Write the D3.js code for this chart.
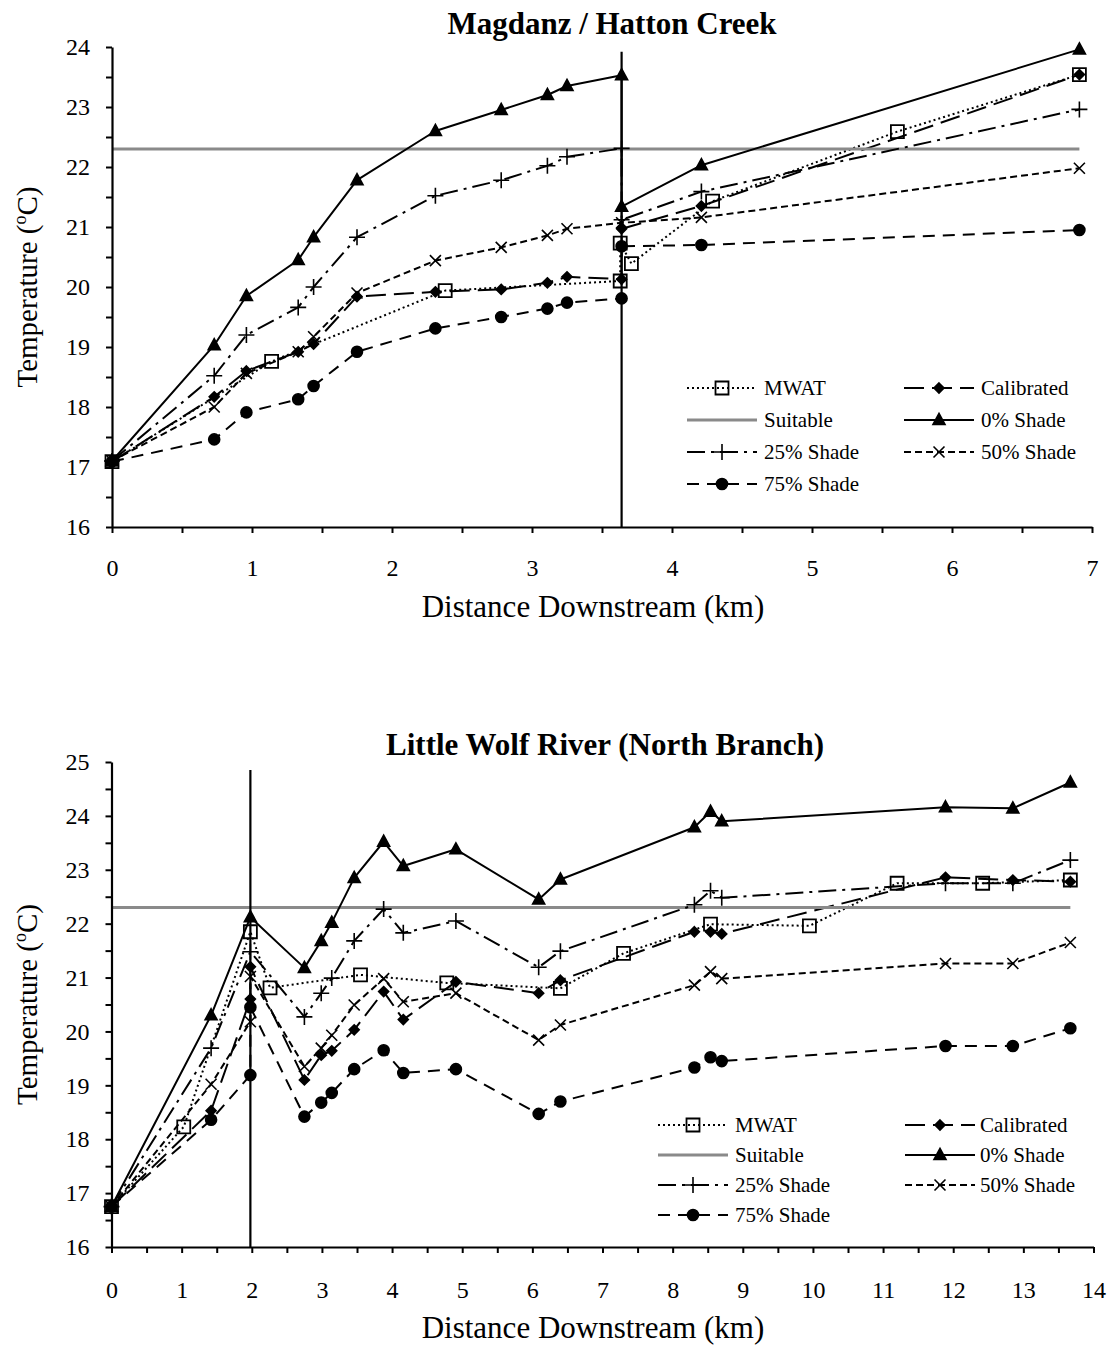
<!DOCTYPE html>
<html>
<head>
<meta charset="utf-8">
<script src="https://cdn.jsdelivr.net/npm/d3@7"></script>
<style>
  body { margin: 0; background: #fff; }
  text { font-family: "Liberation Serif", "Times New Roman", serif; fill: #000; }
</style>
</head>
<body>
<svg id="fig" width="1110" height="1345"></svg>
<script>
// ---------- Magdanz / Hatton Creek : [distance downstream (km), temperature (°C)] ----------
const magMWAT = [[0,17.09],[1.14,18.76],[2.38,19.94],[3.63,20.10],[3.63,20.73],[3.71,20.39],[4.29,21.43],[5.61,22.59],[6.91,23.54]];
const magCalibrated = [[0,17.09],[0.73,18.17],[0.96,18.60],[1.33,18.92],[1.44,19.05],[1.75,19.84],[2.31,19.92],[2.78,19.96],[3.11,20.07],[3.25,20.17],[3.64,20.13],[3.64,20.97],[4.21,21.35],[6.91,23.54]];
const magSuitable = [[0,22.3],[6.91,22.3]];
const magShade0 = [[0,17.10],[0.73,19.03],[0.96,19.85],[1.33,20.45],[1.44,20.83],[1.75,21.78],[2.31,22.60],[2.78,22.95],[3.11,23.20],[3.25,23.35],[3.64,23.53],[3.64,21.34],[4.21,22.03],[6.91,23.96]];
const magShade25 = [[0,17.10],[0.73,18.52],[0.96,19.20],[1.33,19.66],[1.44,20.00],[1.75,20.83],[2.31,21.52],[2.78,21.78],[3.11,22.02],[3.25,22.17],[3.64,22.31],[3.64,21.12],[4.21,21.59],[6.91,22.96]];
const magShade50 = [[0,17.10],[0.73,18.00],[0.96,18.56],[1.33,18.92],[1.44,19.17],[1.75,19.90],[2.31,20.44],[2.78,20.66],[3.11,20.86],[3.25,20.97],[3.64,21.07],[4.21,21.16],[6.91,21.98]];
const magShade75 = [[0,17.09],[0.73,17.46],[0.96,17.91],[1.33,18.13],[1.44,18.35],[1.75,18.92],[2.31,19.31],[2.78,19.50],[3.11,19.64],[3.25,19.74],[3.64,19.81],[3.64,20.68],[4.21,20.70],[6.91,20.95]];
const magDivide = [[3.64,16],[3.64,23.92]];

// ---------- Little Wolf River (North Branch) ----------
const lwMWAT = [[0,16.75],[1.03,18.23],[1.98,21.85],[2.26,20.81],[3.55,21.05],[4.78,20.90],[6.40,20.80],[7.30,21.45],[8.54,21.99],[9.95,21.96],[11.20,22.75],[12.42,22.75],[13.67,22.81]];
const lwCalibrated = [[0,16.75],[1.42,18.53],[1.98,20.60],[1.98,21.20],[2.75,19.10],[2.99,19.56],[3.14,19.64],[3.46,20.03],[3.88,20.74],[4.16,20.22],[4.91,20.92],[6.09,20.71],[6.40,20.95],[8.31,21.85],[8.54,21.85],[8.70,21.81],[11.89,22.86],[12.85,22.81],[13.67,22.78]];
const lwSuitable = [[0,22.3],[13.67,22.3]];
const lwShade0 = [[0,16.75],[1.42,20.30],[1.98,22.12],[2.75,21.18],[2.99,21.68],[3.14,22.02],[3.46,22.85],[3.88,23.52],[4.16,23.07],[4.91,23.38],[6.09,22.45],[6.40,22.82],[8.31,23.79],[8.54,24.08],[8.70,23.90],[11.89,24.16],[12.85,24.14],[13.67,24.62]];
const lwShade25 = [[0,16.75],[1.42,19.69],[1.98,21.48],[2.75,20.27],[2.99,20.71],[3.14,20.99],[3.46,21.68],[3.88,22.27],[4.16,21.83],[4.91,22.05],[6.09,21.19],[6.40,21.49],[8.31,22.35],[8.54,22.61],[8.70,22.48],[11.89,22.75],[12.85,22.75],[13.67,23.18]];
const lwShade50 = [[0,16.75],[1.42,19.02],[1.98,20.18],[1.98,21.02],[2.75,19.35],[2.99,19.69],[3.14,19.93],[3.46,20.49],[3.88,20.98],[4.16,20.55],[4.91,20.71],[6.09,19.84],[6.40,20.12],[8.31,20.86],[8.54,21.11],[8.70,20.98],[11.89,21.26],[12.85,21.26],[13.67,21.65]];
const lwShade75 = [[0,16.75],[1.42,18.36],[1.98,19.19],[1.98,20.45],[2.75,18.42],[2.99,18.68],[3.14,18.86],[3.46,19.30],[3.88,19.65],[4.16,19.23],[4.91,19.30],[6.09,18.47],[6.40,18.70],[8.31,19.33],[8.54,19.52],[8.70,19.45],[11.89,19.73],[12.85,19.73],[13.67,20.06]];
const lwDivide = [[1.98,16],[1.98,24.85]];

// ---------- axis ticks ----------
const magXTicks = d3.range(0, 7.001, 0.5);
const magYTicks = d3.range(16, 24.001, 0.5);
const lwXTicks = d3.range(0, 14.001, 0.5);
const lwYTicks = d3.range(16, 25.001, 0.5);

const legendNames = ["MWAT", "Calibrated", "Suitable", "0% Shade", "25% Shade", "50% Shade", "75% Shade"];

// ---------- line and marker styles per series ----------
const styles = {
  "MWAT":       { stroke: "#000", width: 2,   dash: "2,3",       marker: "square" },
  "Calibrated": { stroke: "#000", width: 2,   dash: "20,8",      marker: "diamond" },
  "Suitable":   { stroke: "#8a8a8a", width: 3, dash: null,       marker: null },
  "0% Shade":   { stroke: "#000", width: 2,   dash: null,        marker: "triangle" },
  "25% Shade":  { stroke: "#000", width: 2,   dash: "18,6,3,6",  marker: "plus" },
  "50% Shade":  { stroke: "#000", width: 2,   dash: "7,4",       marker: "cross" },
  "75% Shade":  { stroke: "#000", width: 2,   dash: "12,8",      marker: "circle" }
};

const markerPaths = {
  square:   "M-6.5,-6.5H6.5V6.5H-6.5Z",
  diamond:  "M0,-5L5,0L0,5L-5,0Z",
  triangle: "M0,-6.5L6,4.5L-6,4.5Z",
  plus:     "M-8,0H8M0,-8V8",
  cross:    "M-5.5,-5.5L5.5,5.5M-5.5,5.5L5.5,-5.5",
  circle:   "M5.5,0A5.5,5.5,0,1,1,-5.5,0A5.5,5.5,0,1,1,5.5,0Z"
};
const markerFill = { square: "none", diamond: "#000", triangle: "#000", plus: "none", cross: "none", circle: "#000" };

function drawMarker(sel, kind, cx, cy) {
  if (!kind) return;
  sel.append("path")
    .attr("d", markerPaths[kind])
    .attr("transform", `translate(${cx},${cy})`)
    .attr("fill", markerFill[kind])
    .attr("stroke", "#000")
    .attr("stroke-width", kind === "square" ? 1.8 : 1.6);
}

const svg = d3.select("#fig");

function panel(cfg) {
  const x = d3.scaleLinear().domain(cfg.xDomain).range(cfg.xRange);
  const y = d3.scaleLinear().domain(cfg.yDomain).range(cfg.yRange);
  const g = svg.append("g");
  const line = d3.line().x(d => x(d[0])).y(d => y(d[1]));

  // title
  g.append("text")
    .attr("x", cfg.titleX).attr("y", cfg.titleY)
    .attr("text-anchor", "middle")
    .attr("font-size", 31).attr("font-weight", "bold")
    .text(cfg.title);

  // data series
  cfg.series.forEach(s => {
    const st = styles[s.name];
    g.append("path")
      .datum(s.data)
      .attr("d", line)
      .attr("fill", "none")
      .attr("stroke", st.stroke)
      .attr("stroke-width", st.width)
      .attr("stroke-dasharray", st.dash)
      .attr("stroke-linejoin", "round");
    if (st.marker) {
      s.data.forEach(d => drawMarker(g, st.marker, x(d[0]), y(d[1])));
    }
  });

  // tributary / reach divide
  g.append("path")
    .datum(cfg.divide)
    .attr("d", line)
    .attr("stroke", "#000").attr("stroke-width", 2.2).attr("fill", "none");

  // axes
  const yAxis = g.append("g")
    .attr("transform", `translate(${cfg.xRange[0]},0)`)
    .call(d3.axisLeft(y).tickValues(cfg.yTicks).tickSize(6).tickSizeOuter(0).tickPadding(16)
      .tickFormat(d => Number.isInteger(d) ? d : ""));
  const xAxis = g.append("g")
    .attr("transform", `translate(0,${cfg.yRange[0]})`)
    .call(d3.axisBottom(x).tickValues(cfg.xTicks).tickSize(6).tickSizeOuter(0).tickPadding(cfg.xPad)
      .tickFormat(d => Number.isInteger(d) ? d : ""));
  [yAxis, xAxis].forEach(a => {
    a.select(".domain").attr("stroke", "#000").attr("stroke-width", 2.2);
    a.selectAll(".tick line").attr("stroke", "#000").attr("stroke-width", 2);
    a.selectAll(".tick text").attr("font-size", 24).attr("font-family", "Liberation Serif, serif").attr("fill", "#000");
  });

  // axis titles
  g.append("text")
    .attr("x", cfg.xTitleX).attr("y", cfg.xTitleY)
    .attr("text-anchor", "middle").attr("font-size", 31)
    .text("Distance Downstream (km)");
  const yt = g.append("text")
    .attr("transform", `translate(37,${(cfg.yRange[0] + cfg.yRange[1]) / 2}) rotate(-90)`)
    .attr("text-anchor", "middle").attr("font-size", 29);
  yt.append("tspan").text("Temperature (");
  yt.append("tspan").attr("font-size", 18).attr("dy", -11).text("o");
  yt.append("tspan").attr("dy", 11).text("C)");

  // legend
  const lg = g.append("g");
  legendNames.forEach((name, i) => {
    const col = i % 2, row = Math.floor(i / 2);
    const L = cfg.legend;
    const x0 = L.lineX[col], x1 = x0 + L.lineLen, cy = L.rowY[row];
    const st = styles[name];
    lg.append("line")
      .attr("x1", x0).attr("x2", x1).attr("y1", cy).attr("y2", cy)
      .attr("stroke", st.stroke).attr("stroke-width", st.width)
      .attr("stroke-dasharray", st.dash);
    drawMarker(lg, st.marker, (x0 + x1) / 2, cy);
    lg.append("text")
      .attr("x", L.textX[col]).attr("y", cy)
      .attr("dominant-baseline", "central")
      .attr("font-size", 21)
      .text(name);
  });
}

panel({
  title: "Magdanz / Hatton Creek", titleX: 612, titleY: 34,
  xDomain: [0, 7], xRange: [112, 1092],
  yDomain: [16, 24], yRange: [527, 47],
  xTicks: magXTicks, yTicks: magYTicks, xPad: 26,
  xTitleX: 593, xTitleY: 617,
  divide: magDivide,
  series: [
    { name: "MWAT", data: magMWAT },
    { name: "Calibrated", data: magCalibrated },
    { name: "Suitable", data: magSuitable },
    { name: "0% Shade", data: magShade0 },
    { name: "25% Shade", data: magShade25 },
    { name: "50% Shade", data: magShade50 },
    { name: "75% Shade", data: magShade75 }
  ],
  legend: { lineX: [687, 904], lineLen: 70, textX: [764, 981], rowY: [388, 420, 452, 484] }
});

panel({
  title: "Little Wolf River (North Branch)", titleX: 605, titleY: 755,
  xDomain: [0, 14], xRange: [111.5, 1093.5],
  yDomain: [16, 25], yRange: [1247, 762],
  xTicks: lwXTicks, yTicks: lwYTicks, xPad: 28,
  xTitleX: 593, xTitleY: 1338,
  divide: lwDivide,
  series: [
    { name: "MWAT", data: lwMWAT },
    { name: "Calibrated", data: lwCalibrated },
    { name: "Suitable", data: lwSuitable },
    { name: "0% Shade", data: lwShade0 },
    { name: "25% Shade", data: lwShade25 },
    { name: "50% Shade", data: lwShade50 },
    { name: "75% Shade", data: lwShade75 }
  ],
  legend: { lineX: [658, 905], lineLen: 70, textX: [735, 980], rowY: [1125, 1155, 1185, 1215] }
});
</script>
</body>
</html>
